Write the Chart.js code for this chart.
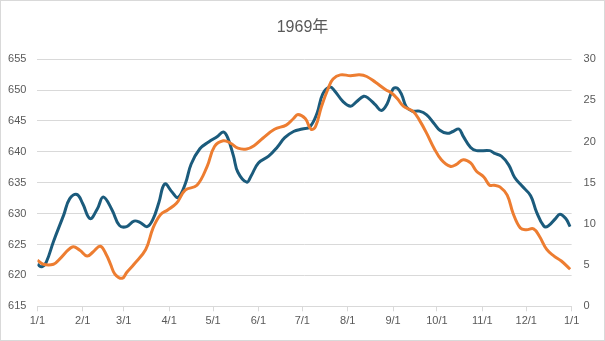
<!DOCTYPE html>
<html>
<head>
<meta charset="utf-8">
<script src="https://cdn.jsdelivr.net/npm/chart.js@4/dist/chart.umd.min.js"></script>
<style>
  html, body { margin: 0; padding: 0; background: #ffffff; }
  #wrap { width: 605px; height: 341px; position: relative; }
</style>
</head>
<body>
<div id="wrap"><canvas id="chart" width="605" height="341"></canvas></div>
<script>
// Title and x-axis calendar (day of year where each month starts)
const titleText = '1969年';
const monthStartDays = [0, 31, 59, 90, 120, 151, 181, 212, 243, 273, 304, 334, 365];
const monthLabels = ['1/1', '2/1', '3/1', '4/1', '5/1', '6/1', '7/1', '8/1', '9/1', '10/1', '11/1', '12/1', '1/1'];

// Left-axis series (blue), sampled by day of year
const leftDays = [0, 3, 6, 11, 18, 22, 27, 31, 36, 41, 45, 51, 56, 61, 66, 70, 75, 79, 83, 87, 92, 96, 101, 105,
  111, 117, 123, 127, 130, 134, 137, 143, 146, 151, 158, 164, 169, 175, 181, 186, 191, 195, 200, 203, 209, 214,
  218, 223, 226, 231, 235, 239, 243, 246, 249, 252, 256, 261, 266, 271, 275, 280, 284, 288, 291, 296, 300, 309,
  312, 317, 322, 326, 331, 337, 341, 346, 349, 354, 357, 361, 364];
const leftValues = [621.8, 621.4, 622.1, 625.5, 629.8, 632.4, 633.1, 631.6, 629.2, 630.8, 632.7, 630.6, 628.1,
  627.9, 628.8, 628.6, 627.9, 629.1, 631.8, 634.8, 633.5, 632.6, 634.8, 638.0, 640.5, 641.6, 642.5, 643.2, 642.3,
  639.3, 636.7, 635.1, 636.1, 638.2, 639.3, 640.8, 642.3, 643.3, 643.7, 644.0, 646.2, 649.4, 650.5, 649.9, 648.1,
  647.4, 648.1, 649.0, 648.7, 647.6, 646.7, 647.8, 650.2, 650.3, 649.2, 647.3, 646.6, 646.6, 646.0, 644.6, 643.5,
  643.0, 643.3, 643.7, 642.5, 640.7, 640.2, 640.2, 639.8, 639.3, 637.9, 635.9, 634.5, 632.9, 630.3, 628.0, 628.0,
  629.2, 629.9, 629.2, 627.9];

// Right-axis series (orange), sampled by day of year
const rightDays = [0, 4, 11, 15, 24, 29, 34, 38, 43, 47, 50, 53, 58, 61, 66, 74, 79, 84, 89, 95, 101, 109, 116,
  121, 127, 132, 137, 143, 148, 154, 162, 170, 175, 178, 183, 187, 190, 194, 199, 202, 207, 214, 220, 225, 231,
  238, 242, 246, 250, 257, 261, 266, 271, 276, 282, 286, 291, 296, 300, 305, 309, 312, 316, 321, 325, 330, 334,
  339, 343, 348, 353, 358, 364];
const rightValues = [5.6, 5.1, 5.1, 5.7, 7.2, 6.8, 6.1, 6.6, 7.3, 6.3, 5.1, 3.9, 3.4, 4.1, 5.1, 6.9, 9.5, 11.1,
  11.7, 12.5, 14.1, 14.7, 17.0, 19.4, 20.1, 19.8, 19.2, 19.1, 19.5, 20.4, 21.5, 22.0, 22.8, 23.3, 22.8, 21.5, 21.8,
  24.2, 26.6, 27.6, 28.1, 28.0, 28.1, 27.9, 27.2, 26.3, 25.9, 25.2, 24.3, 23.6, 22.6, 21.0, 19.2, 17.8, 17.0, 17.2,
  17.8, 17.4, 16.4, 15.7, 14.7, 14.7, 14.5, 13.5, 11.3, 9.5, 9.3, 9.4, 8.5, 6.9, 6.1, 5.5, 4.5];

const toPoints = (xs, ys) => xs.map((x, i) => ({ x: x, y: ys[i] }));

const textColor = '#595959';
const gridColor = '#d9d9d9';
const fontFamily = '"Liberation Sans", Arial, "Noto Sans CJK SC", sans-serif';

// Thin frame around the whole canvas
const framePlugin = {
  id: 'frame',
  afterDraw(chart) {
    const ctx = chart.ctx;
    ctx.save();
    ctx.strokeStyle = gridColor;
    ctx.lineWidth = 1;
    ctx.strokeRect(0.5, 0.5, chart.width - 1, chart.height - 1);
    ctx.restore();
  }
};

new Chart(document.getElementById('chart'), {
  type: 'line',
  data: {
    datasets: [
      {
        data: toPoints(leftDays, leftValues),
        yAxisID: 'yLeft',
        borderColor: '#1b5b7c',
        borderWidth: 3,
        pointRadius: 0,
        tension: 0.4,
        order: 2
      },
      {
        data: toPoints(rightDays, rightValues),
        yAxisID: 'yRight',
        borderColor: '#ed7d31',
        borderWidth: 3,
        pointRadius: 0,
        tension: 0.4,
        order: 1
      }
    ]
  },
  options: {
    responsive: false,
    animation: false,
    devicePixelRatio: 1,
    layout: { padding: { left: 0, right: 0, top: 0, bottom: 10.5 } },
    plugins: {
      legend: { display: false },
      tooltip: { enabled: false },
      title: {
        display: true,
        text: titleText,
        color: textColor,
        font: { family: fontFamily, size: 16, weight: 'normal' },
        padding: { top: 18, bottom: 22 }
      }
    },
    scales: {
      x: {
        type: 'linear',
        min: 0,
        max: 365,
        afterBuildTicks(scale) {
          scale.ticks = monthStartDays.map(v => ({ value: v }));
        },
        ticks: {
          autoSkip: false,
          maxRotation: 0,
          padding: 3,
          color: textColor,
          font: { family: fontFamily, size: 11 },
          callback: (value, index) => monthLabels[index]
        },
        grid: {
          drawOnChartArea: false,
          drawTicks: true,
          tickLength: 5,
          color: gridColor
        },
        border: { display: true, color: gridColor }
      },
      yLeft: {
        position: 'left',
        min: 615,
        max: 655,
        afterFit(scale) { scale.width = 37.4; },
        ticks: {
          stepSize: 5,
          padding: 11,
          color: textColor,
          font: { family: fontFamily, size: 11 }
        },
        grid: { color: gridColor, drawTicks: false },
        border: { display: false }
      },
      yRight: {
        position: 'right',
        min: 0,
        max: 30,
        afterFit(scale) { scale.width = 33.4; },
        ticks: {
          stepSize: 5,
          padding: 12,
          color: textColor,
          font: { family: fontFamily, size: 11 }
        },
        grid: { display: false, drawTicks: false },
        border: { display: false }
      }
    }
  },
  plugins: [framePlugin]
});
</script>
</body>
</html>
